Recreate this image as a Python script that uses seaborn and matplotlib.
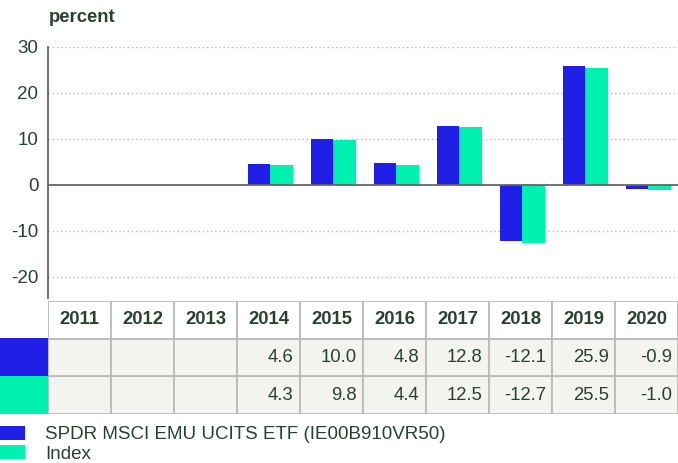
import numpy as np
import pandas as pd
import matplotlib
matplotlib.use("Agg")
import matplotlib.pyplot as plt
from matplotlib.patches import Rectangle, Patch
import seaborn as sns

years = ["2011", "2012", "2013", "2014", "2015", "2016", "2017", "2018", "2019", "2020"]
etf = [np.nan, np.nan, np.nan, 4.6, 10.0, 4.8, 12.8, -12.1, 25.9, -0.9]
index_vals = [np.nan, np.nan, np.nan, 4.3, 9.8, 4.4, 12.5, -12.7, 25.5, -1.0]
series_names = ["SPDR MSCI EMU UCITS ETF (IE00B910VR50)", "Index"]
yticks = [-20, -10, 0, 10, 20, 30]

BLUE = "#1F1FE8"
GREEN = "#00F0B0"
TXT = "#2B3F35"
GRID = "#BBBBBB"

sns.set_theme(style="white")
plt.rcParams["font.family"] = ["Liberation Sans", "DejaVu Sans"]

df = pd.DataFrame({
    "year": years * 2,
    "value": etf + index_vals,
    "series": [series_names[0]] * len(years) + [series_names[1]] * len(years),
})

W, H = 678, 463
fig = plt.figure(figsize=(W / 100, H / 100), dpi=100)

def fx(px):
    return px / W

def fy(px):
    return 1 - px / H

# bar axes
ax = fig.add_axes([fx(48), fy(298), fx(630), (298 - 47) / H])
sns.barplot(data=df, x="year", y="value", hue="series", order=years,
            hue_order=series_names, palette=[BLUE, GREEN], width=0.72,
            saturation=1, legend=False, ax=ax, linewidth=0)
ax.set_xlim(-0.53, len(years) - 0.53)
ax.set_ylim(-24.6, 30)
ax.set_yticks(yticks)
ax.set_yticklabels([str(t) for t in yticks], fontsize=13.5, color=TXT)
ax.tick_params(axis="y", length=0, pad=7)
ax.set_xticks([])
ax.set_xlabel("")
ax.set_ylabel("")
for t in yticks:
    if t != 0:
        ax.axhline(t, color=GRID, lw=1, ls=(0, (1, 2)), zorder=0)
ax.axhline(0, color="#666666", lw=1.3, zorder=3)
for s in ["top", "right", "bottom"]:
    ax.spines[s].set_visible(False)
ax.spines["left"].set_color("#666666")
ax.spines["left"].set_linewidth(1.3)

fig.text(fx(49), fy(18), "percent", fontsize=13.3, fontweight="bold", color=TXT,
         va="center", ha="left")

# table axes
axt = fig.add_axes([fx(48), fy(414), fx(630), (414 - 301) / H])
axt.set_xlim(-0.5, len(years) - 0.5)
axt.set_ylim(0, 3)
axt.axis("off")
rows = [index_vals, etf]
for i, y in enumerate(years):
    axt.add_patch(Rectangle((i - 0.5, 2), 1, 1, facecolor="white", edgecolor=GRID, lw=1.3))
    axt.text(i, 2.5, y, ha="center", va="center", fontsize=13.3, fontweight="bold", color=TXT)
    for r, vals in enumerate(rows):
        axt.add_patch(Rectangle((i - 0.5, r), 1, 1, facecolor="#F3F3EF", edgecolor=GRID, lw=1.3))
        v = vals[i]
        if not np.isnan(v):
            axt.text(i + 0.4, r + 0.5, f"{v:.1f}", ha="right", va="center",
                     fontsize=13.3, color=TXT)

# row swatches
fig.patches.append(Rectangle((0, fy(376)), fx(48), (376 - 338) / H,
                             transform=fig.transFigure, facecolor=BLUE, edgecolor="none"))
fig.patches.append(Rectangle((0, fy(414)), fx(48), (414 - 376) / H,
                             transform=fig.transFigure, facecolor=GREEN, edgecolor="none"))

handles = [Patch(facecolor=BLUE, edgecolor="none"), Patch(facecolor=GREEN, edgecolor="none")]
fig.legend(handles, series_names, loc="upper left", bbox_to_anchor=(0, fy(426)),
           frameon=False, fontsize=13.5, handlelength=1.35, handleheight=0.75,
           handletextpad=1.05, labelspacing=0.1, borderpad=0, borderaxespad=0,
           labelcolor=TXT)

fig.savefig("out.png", dpi=100)
